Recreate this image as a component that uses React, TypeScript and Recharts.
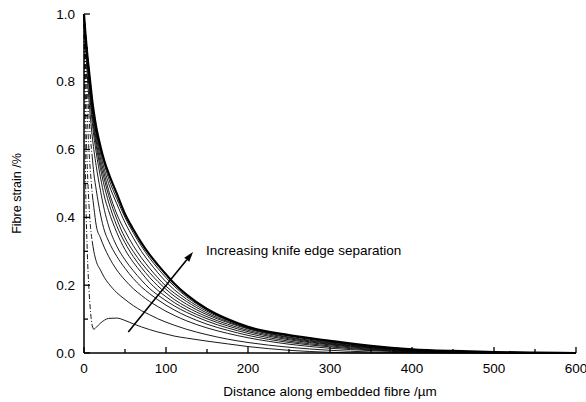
import { LineChart, Line, XAxis, YAxis, ReferenceLine } from "recharts";

// distance along the embedded fibre (µm)
const distance = [
  0, 1, 2, 4, 6, 8, 10, 12, 15, 20, 25, 30, 40, 50, 60, 70, 80, 90, 100, 110,
  125, 150, 175, 200, 250, 300, 350, 400, 450, 500, 550, 600,
];

// fibre strain (%) for increasing knife edge separation
const sep1 = [1.0, 0.72, 0.5, 0.3, 0.19, 0.12, 0.08, 0.07, 0.076, 0.088, 0.097, 0.102, 0.103, 0.096, 0.086, 0.077, 0.069, 0.062, 0.056, 0.05, 0.044, 0.035, 0.027, 0.019, 0.008, 0.002, 0, 0, 0, 0, 0, 0];
const sep2 = [1.0, 0.85, 0.72, 0.55, 0.44, 0.37, 0.33, 0.3, 0.27, 0.245, 0.222, 0.205, 0.178, 0.158, 0.14, 0.125, 0.113, 0.101, 0.091, 0.082, 0.07, 0.054, 0.041, 0.031, 0.017, 0.008, 0.003, 0.001, 0, 0, 0, 0];
const sep3 = [1.0, 0.9, 0.82, 0.7, 0.6, 0.53, 0.47, 0.43, 0.375, 0.34, 0.31, 0.285, 0.245, 0.215, 0.19, 0.17, 0.152, 0.137, 0.123, 0.111, 0.095, 0.074, 0.058, 0.045, 0.026, 0.014, 0.007, 0.003, 0.001, 0, 0, 0];
const sep4 = [1.0, 0.93, 0.87, 0.78, 0.7, 0.63, 0.58, 0.53, 0.48, 0.41, 0.36, 0.33, 0.285, 0.25, 0.22, 0.195, 0.175, 0.157, 0.141, 0.127, 0.109, 0.085, 0.067, 0.052, 0.031, 0.018, 0.009, 0.004, 0.002, 0.001, 0, 0];
const sep5 = [1.0, 0.95, 0.9, 0.82, 0.75, 0.69, 0.64, 0.6, 0.55, 0.48, 0.42, 0.375, 0.315, 0.275, 0.243, 0.215, 0.19, 0.171, 0.154, 0.139, 0.12, 0.094, 0.074, 0.058, 0.035, 0.021, 0.011, 0.005, 0.002, 0.001, 0, 0];
const sep6 = [1.0, 0.96, 0.92, 0.85, 0.79, 0.73, 0.68, 0.64, 0.59, 0.52, 0.46, 0.42, 0.355, 0.305, 0.268, 0.237, 0.208, 0.185, 0.166, 0.149, 0.128, 0.101, 0.08, 0.063, 0.039, 0.024, 0.013, 0.006, 0.003, 0.001, 0, 0];
const sep7 = [1.0, 0.965, 0.93, 0.865, 0.81, 0.75, 0.7, 0.66, 0.61, 0.545, 0.49, 0.445, 0.375, 0.325, 0.285, 0.252, 0.223, 0.198, 0.177, 0.158, 0.136, 0.107, 0.085, 0.067, 0.042, 0.026, 0.015, 0.007, 0.003, 0.001, 0, 0];
const sep8 = [1.0, 0.965, 0.935, 0.875, 0.82, 0.765, 0.715, 0.675, 0.625, 0.56, 0.51, 0.465, 0.395, 0.34, 0.3, 0.266, 0.237, 0.211, 0.188, 0.168, 0.144, 0.113, 0.09, 0.071, 0.045, 0.028, 0.016, 0.008, 0.004, 0.002, 0, 0];
const sep9 = [1.0, 0.965, 0.935, 0.88, 0.83, 0.775, 0.725, 0.69, 0.64, 0.575, 0.525, 0.48, 0.41, 0.36, 0.317, 0.281, 0.25, 0.222, 0.197, 0.177, 0.152, 0.118, 0.093, 0.073, 0.047, 0.03, 0.017, 0.009, 0.004, 0.002, 0.001, 0];
const sep10 = [1.0, 0.965, 0.935, 0.88, 0.835, 0.78, 0.73, 0.695, 0.65, 0.59, 0.54, 0.5, 0.44, 0.385, 0.34, 0.3, 0.267, 0.237, 0.21, 0.187, 0.159, 0.123, 0.096, 0.075, 0.05, 0.032, 0.019, 0.01, 0.005, 0.002, 0.001, 0];
const sep11 = [1.0, 0.965, 0.935, 0.88, 0.835, 0.785, 0.735, 0.7, 0.655, 0.6, 0.555, 0.515, 0.455, 0.4, 0.355, 0.315, 0.28, 0.25, 0.222, 0.197, 0.166, 0.127, 0.098, 0.076, 0.051, 0.034, 0.02, 0.011, 0.005, 0.002, 0.001, 0];
const sep12 = [1.0, 0.965, 0.935, 0.88, 0.835, 0.79, 0.745, 0.71, 0.665, 0.61, 0.565, 0.53, 0.47, 0.41, 0.365, 0.325, 0.29, 0.26, 0.232, 0.205, 0.172, 0.13, 0.1, 0.077, 0.053, 0.036, 0.021, 0.011, 0.006, 0.003, 0.001, 0];

const curves = [sep1, sep2, sep3, sep4, sep5, sep6, sep7, sep8, sep9, sep10, sep11, sep12];

// the steep start of the first few curves is printed dash-dot
const DASHED_CURVES = 4;
const DASH_END = 10; // µm

const xTicks = [0, 50, 100, 150, 200, 250, 300, 350, 400, 450, 500, 550, 600];
const yTicks = [0, 0.1, 0.2, 0.3, 0.4, 0.5, 0.6, 0.7, 0.8, 0.9, 1.0];

// arrow annotation, in data units
const arrowFrom = { x: 54, y: 0.062 };
const arrowTo = { x: 133, y: 0.298 };
const arrowText = "Increasing knife edge separation";

const FONT = '"Liberation Sans", Arial, Helvetica, sans-serif';

const data = distance.map((x, i) => {
  const row: Record<string, number | null> = { x };
  curves.forEach((c, k) => {
    if (k < DASHED_CURVES) {
      row[`h${k + 1}`] = x <= DASH_END ? c[i] : null;
      row[`s${k + 1}`] = x >= DASH_END ? c[i] : null;
    } else {
      row[`s${k + 1}`] = c[i];
    }
  });
  return row;
});

function YTick({ x, y, payload }: any) {
  const major = Math.round(payload.value * 10) % 2 === 0;
  return (
    <g>
      <line x1={x} x2={x + (major ? 6 : 4)} y1={y} y2={y} stroke="#000" strokeWidth={1.3} />
      {major && (
        <text x={x - 9} y={y} textAnchor="end" dominantBaseline="central" fontSize={13.5} fontFamily={FONT} fill="#000">
          {payload.value.toFixed(1)}
        </text>
      )}
    </g>
  );
}

function XTick({ x, y, payload }: any) {
  const major = payload.value % 100 === 0;
  return (
    <g>
      <line x1={x} x2={x} y1={y} y2={y - (major ? 6 : 4)} stroke="#000" strokeWidth={1.3} />
      {major && (
        <text x={x} y={y + 15} textAnchor="middle" dominantBaseline="central" fontSize={13.5} fontFamily={FONT} fill="#000">
          {payload.value}
        </text>
      )}
    </g>
  );
}

function YLabel({ viewBox }: any) {
  const cx = viewBox.x + 17;
  const cy = viewBox.y + viewBox.height / 2 + 10;
  return (
    <text
      x={cx}
      y={cy}
      transform={`rotate(-90 ${cx} ${cy})`}
      textAnchor="middle"
      dominantBaseline="central"
      fontSize={12.5}
      fontFamily={FONT}
      fill="#000"
    >
      Fibre strain /%
    </text>
  );
}

function Arrow(props: any) {
  const { x1, y1, x2, y2 } = props;
  const ang = Math.atan2(y2 - y1, x2 - x1);
  const len = 10;
  const half = 3.2;
  const bx = x2 - len * Math.cos(ang);
  const by = y2 - len * Math.sin(ang);
  const px = -Math.sin(ang) * half;
  const py = Math.cos(ang) * half;
  return (
    <g>
      <line x1={x1} y1={y1} x2={bx} y2={by} stroke="#000" strokeWidth={1.6} />
      <polygon points={`${x2},${y2} ${bx + px},${by + py} ${bx - px},${by - py}`} fill="#000" />
      <text x={x2 + 13} y={y2 - 1} dominantBaseline="central" fontSize={13.5} fontFamily={FONT} fill="#000">
        {arrowText}
      </text>
    </g>
  );
}

export default function App() {
  return (
    <div style={{ position: "absolute", left: 0, top: 0, background: "#fff" }}>
      <LineChart width={586} height={402} data={data} margin={{ top: 14, right: 10, bottom: 0, left: 0 }}>
        <XAxis
          dataKey="x"
          type="number"
          domain={[0, 600]}
          ticks={xTicks}
          interval={0}
          height={49}
          tickSize={0}
          tickMargin={0}
          tickLine={false}
          tick={<XTick />}
          axisLine={{ stroke: "#000", strokeWidth: 1.5 }}
          label={{
            value: "Distance along embedded fibre /\u00b5m",
            position: "insideBottom",
            offset: 6,
            fontSize: 13.5,
            fontFamily: FONT,
            fill: "#000",
          }}
        />
        <YAxis
          type="number"
          domain={[0, 1]}
          ticks={yTicks}
          interval={0}
          width={84}
          tickSize={0}
          tickMargin={0}
          tickLine={false}
          tick={<YTick />}
          axisLine={{ stroke: "#000", strokeWidth: 1.5 }}
          label={<YLabel />}
        />
        {curves.map((_, k) =>
          k < DASHED_CURVES ? (
            <Line
              key={`h${k}`}
              dataKey={`h${k + 1}`}
              type="monotone"
              stroke="#000"
              strokeWidth={0.9}
              strokeDasharray="5 2 1 2"
              dot={false}
              connectNulls={false}
              isAnimationActive={false}
            />
          ) : null
        )}
        {curves.map((_, k) => (
          <Line
            key={k}
            dataKey={`s${k + 1}`}
            type="monotone"
            stroke="#000"
            strokeWidth={k === curves.length - 1 ? 2.2 : 0.9}
            dot={false}
            connectNulls={false}
            isAnimationActive={false}
          />
        ))}
        <ReferenceLine segment={[arrowFrom, arrowTo]} shape={<Arrow />} ifOverflow="visible" />
      </LineChart>
    </div>
  );
}
